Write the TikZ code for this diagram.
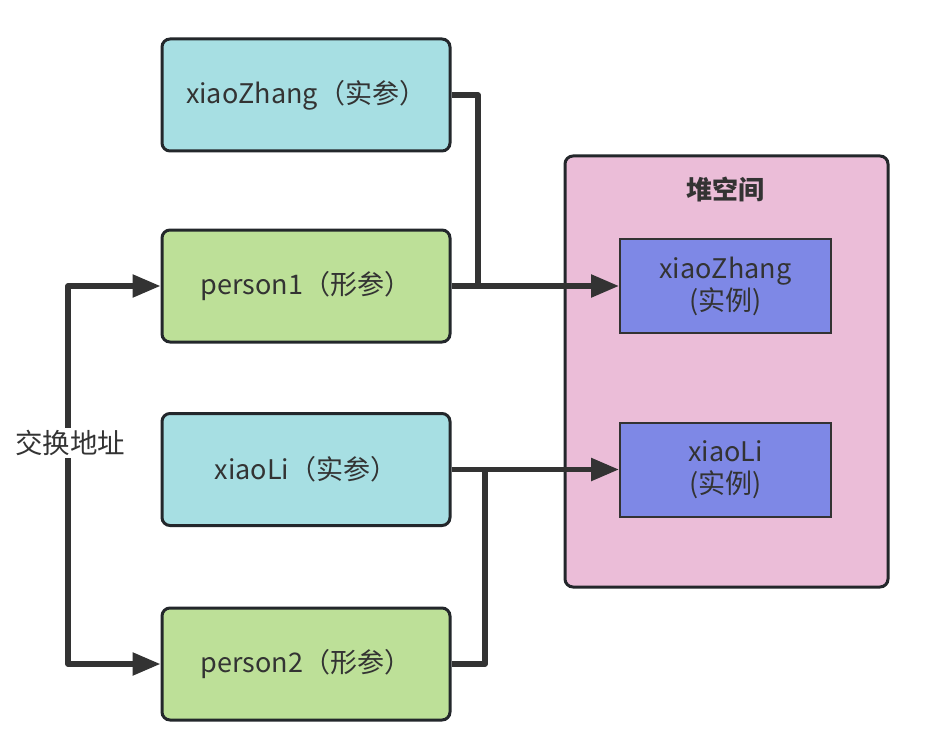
\documentclass[tikz,border=0pt]{standalone}
\usepackage{fontspec}
\setmainfont{Noto Sans CJK SC}
\usetikzlibrary{arrows.meta}
\definecolor{txt}{HTML}{333333}
\definecolor{edge}{HTML}{23272B}
\definecolor{cyanf}{HTML}{A7DFE3}
\definecolor{greenf}{HTML}{BDE098}
\definecolor{pinkf}{HTML}{EBBDD8}
\definecolor{bluef}{HTML}{7E88E6}
\definecolor{linec}{HTML}{333333}
\begin{document}
\begin{tikzpicture}[x=1pt,y=-1pt,
  box/.style={draw=edge,line width=3pt,rounded corners=8pt,minimum width=288pt,minimum height=112pt,inner sep=0pt,font=\fontsize{27}{31}\selectfont,text=txt},
  inst/.style={draw=txt,line width=2pt,minimum width=211pt,minimum height=94pt,inner sep=0pt,align=center,font=\fontsize{27}{32}\selectfont,text=txt,fill=bluef},
  conn/.style={draw=linec,line width=5.5pt},
  arr/.style={conn,-{Triangle[length=28pt,width=22pt]}}]
\useasboundingbox (0,0) rectangle (939,746);
\fill[white] (0,0) rectangle (939,746);
\node[box,fill=cyanf] (zs) at (306,95) {xiaoZhang（实参）};
\node[box,fill=greenf] (p1) at (306,286) {person1（形参）};
\node[box,fill=cyanf] (ls) at (306,469.5) {xiaoLi（实参）};
\node[box,fill=greenf] (p2) at (306,664) {person2（形参）};
\node[draw=edge,line width=3pt,rounded corners=8pt,fill=pinkf,minimum width=323pt,minimum height=431pt,inner sep=0pt] (heap) at (726.5,371.5) {};
\node[font=\bfseries\fontsize{26}{30}\selectfont,text=txt] (title) at (725,190) {堆空间};
\node[inst] (zi) at (725.5,286) {xiaoZhang\\(实例)};
\node[inst] (li) at (725.5,469.5) {xiaoLi\\(实例)};
\coordinate (j1) at (478,95);
\coordinate (j2) at (478,286);
\coordinate (k1) at (485,664);
\coordinate (k2) at (485,469.5);
\coordinate (l1) at (68,286);
\coordinate (l2) at (68,664);
\draw[conn,line join=round] (zs.east) -- (j1) -- (j2);
\draw[arr] (p1.east) -- (zi.west);
\draw[arr] (ls.east) -- (li.west);
\draw[conn,line join=round] (p2.east) -- (k1) -- (k2);
\draw[conn,{Triangle[length=28pt,width=22pt]}-{Triangle[length=28pt,width=22pt]},line join=round] (p1.west) -- (l1) -- (l2) -- (p2.west);
\node[fill=white,inner sep=2pt,font=\fontsize{27.5}{30}\selectfont,text=txt] (lab) at (70,443) {交换地址};
\end{tikzpicture}
\end{document}
